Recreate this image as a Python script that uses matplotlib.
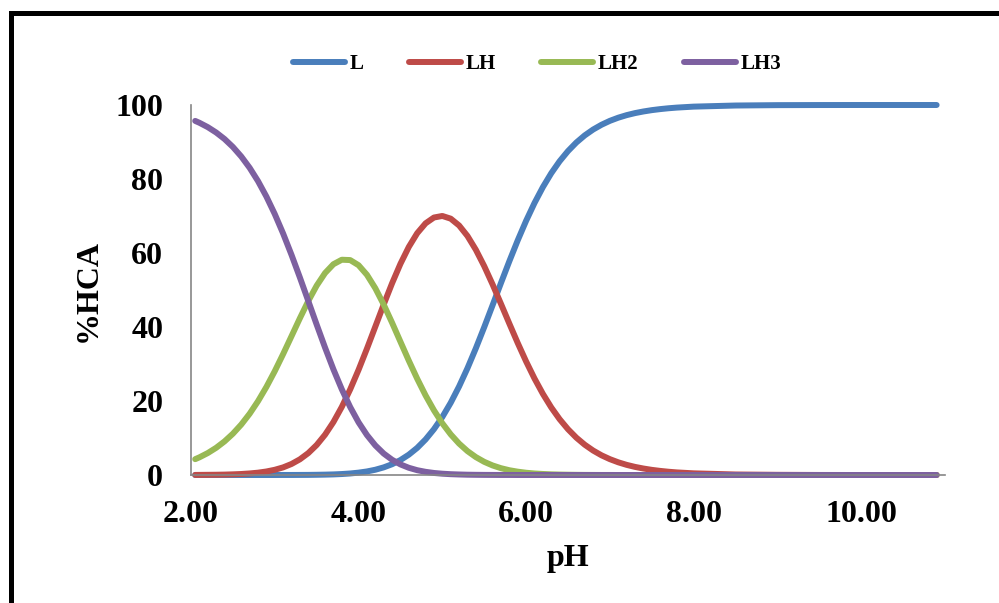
"""Species distribution of HCA versus pH (Excel-style line chart)."""

import matplotlib
matplotlib.use("Agg")
import matplotlib.pyplot as plt
from matplotlib.patches import Rectangle

# ── data ────────────────────────────────────────────────────────────────────
ph = [2.05, 2.1, 2.2, 2.3, 2.4, 2.5, 2.6, 2.7, 2.8, 2.9,
      3.0, 3.1, 3.2, 3.3, 3.4, 3.5, 3.6, 3.7, 3.8, 3.9,
      4.0, 4.1, 4.2, 4.3, 4.4, 4.5, 4.6, 4.7, 4.8, 4.9,
      5.0, 5.1, 5.2, 5.3, 5.4, 5.5, 5.6, 5.7, 5.8, 5.9,
      6.0, 6.1, 6.2, 6.3, 6.4, 6.5, 6.6, 6.7, 6.8, 6.9,
      7.0, 7.1, 7.2, 7.3, 7.4, 7.5, 7.6, 7.7, 7.8,
      8.0, 8.5, 9.0, 9.5, 10.0, 10.5, 10.9]

pct_L = [0.00, 0.00, 0.00, 0.00, 0.00, 0.00, 0.00, 0.00, 0.00, 0.00,
         0.00, 0.01, 0.01, 0.02, 0.03, 0.06, 0.10, 0.16, 0.26, 0.41,
         0.64, 0.96, 1.42, 2.06, 2.91, 4.04, 5.50, 7.33, 9.61, 12.38,
         15.67, 19.52, 23.93, 28.86, 34.24, 39.96, 45.90, 51.90, 57.79, 63.43,
         68.70, 73.51, 77.80, 81.56, 84.80, 87.55, 89.87, 91.79, 93.37, 94.66,
         95.72, 96.57, 97.26, 97.81, 98.25, 98.61, 98.89, 99.12, 99.30,
         99.56, 99.86, 99.96, 99.99, 100.0, 100.0, 100.0]

pct_LH = [0.02, 0.03, 0.05, 0.07, 0.11, 0.18, 0.27, 0.42, 0.63, 0.95,
          1.41, 2.06, 2.98, 4.24, 5.92, 8.11, 10.89, 14.31, 18.40, 23.13,
          28.42, 34.14, 40.10, 46.07, 51.81, 57.08, 61.65, 65.35, 68.02, 69.59,
          70.01, 69.28, 67.44, 64.60, 60.88, 56.45, 51.50, 46.25, 40.91, 35.67,
          30.69, 26.08, 21.93, 18.26, 15.08, 12.37, 10.08, 8.18, 6.61, 5.32,
          4.28, 3.43, 2.74, 2.19, 1.75, 1.39, 1.11, 0.88, 0.70,
          0.45, 0.14, 0.05, 0.01, 0.00, 0.00, 0.00]

pct_LH2 = [4.28, 4.77, 5.93, 7.35, 9.08, 11.16, 13.64, 16.56, 19.95, 23.80,
           28.07, 32.70, 37.53, 42.38, 47.02, 51.18, 54.58, 56.97, 58.18, 58.09,
           56.70, 54.11, 50.48, 46.07, 41.16, 36.02, 30.90, 26.02, 21.51, 17.48,
           13.97, 10.98, 8.49, 6.46, 4.84, 3.56, 2.58, 1.84, 1.29, 0.90,
           0.61, 0.41, 0.28, 0.18, 0.12, 0.08, 0.05, 0.03, 0.02, 0.01,
           0.01, 0.00, 0.00, 0.00, 0.00, 0.00, 0.00, 0.00, 0.00,
           0.00, 0.00, 0.00, 0.00, 0.00, 0.00, 0.00]

pct_LH3 = [95.70, 95.20, 94.02, 92.57, 90.81, 88.66, 86.08, 83.02, 79.42, 75.25,
           70.52, 65.24, 59.48, 53.36, 47.02, 40.65, 34.44, 28.55, 23.16, 18.37,
           14.24, 10.80, 8.00, 5.80, 4.12, 2.86, 1.95, 1.30, 0.86, 0.55,
           0.35, 0.22, 0.14, 0.08, 0.05, 0.03, 0.02, 0.01, 0.01, 0.00,
           0.00, 0.00, 0.00, 0.00, 0.00, 0.00, 0.00, 0.00, 0.00, 0.00,
           0.00, 0.00, 0.00, 0.00, 0.00, 0.00, 0.00, 0.00, 0.00,
           0.00, 0.00, 0.00, 0.00, 0.00, 0.00, 0.00]

series = [
    ("L", pct_L, "#4A7EBB"),
    ("LH", pct_LH, "#BE4B48"),
    ("LH2", pct_LH2, "#98B954"),
    ("LH3", pct_LH3, "#7D60A0"),
]

x_ticks = [2, 4, 6, 8, 10]
y_ticks = [0, 20, 40, 60, 80, 100]

plt.rcParams["font.family"] = ["Liberation Serif", "DejaVu Serif"]
plt.rcParams["font.weight"] = "bold"

fig = plt.figure(figsize=(9.99, 6.03), dpi=100)
ax = fig.add_axes([191 / 999, 1 - 475 / 603, (945 - 191) / 999, (475 - 105) / 603])

for name, vals, color in series:
    ax.plot(ph, vals, color=color, lw=4.3, label=name, solid_capstyle="round",
            solid_joinstyle="round", clip_on=False)

ax.set_xlim(2, 11)
ax.set_ylim(0, 100)
ax.set_xticks(x_ticks)
ax.set_xticklabels([f"{t:.2f}" for t in x_ticks])
ax.set_yticks(y_ticks)
ax.tick_params(axis="x", length=0, pad=18, labelsize=23)
ax.tick_params(axis="y", length=0, pad=20, labelsize=23)

for side in ("top", "right"):
    ax.spines[side].set_visible(False)
for side in ("left", "bottom"):
    ax.spines[side].set_color("#868686")
    ax.spines[side].set_linewidth(1.2)

ax.set_xlabel("pH", fontsize=23, fontweight="bold", labelpad=11)
ax.set_ylabel("%HCA", fontsize=23, fontweight="bold", labelpad=9)

leg = fig.legend(loc="center", bbox_to_anchor=(537 / 999, 1 - 64 / 603), ncol=4,
                 frameon=False, fontsize=15, handlelength=2.5, handletextpad=0.2,
                 columnspacing=2.2, borderaxespad=0)
for line in leg.get_lines():
    line.set_linewidth(4.3)
    line.set_solid_capstyle("round")

# chart-area border (runs off the right and bottom edges in the reference)
fig.add_artist(Rectangle((10.8 / 999, -0.1), 1.2, 1 - 13.5 / 603 + 0.1,
                         transform=fig.transFigure, fill=False,
                         edgecolor="black", lw=3.6, clip_on=False))

fig.savefig("out.png", dpi=100, facecolor="white")
